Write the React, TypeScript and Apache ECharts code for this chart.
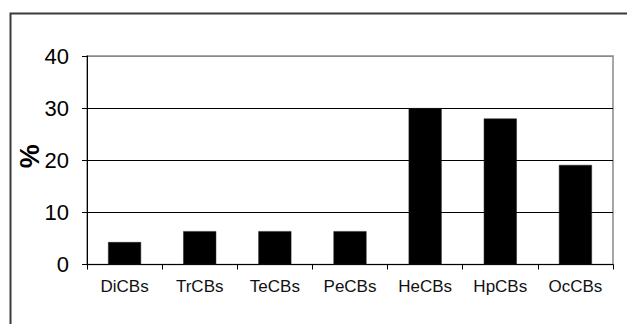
import React, { useEffect, useRef } from "react";
import * as echarts from "echarts";

const categories = ["DiCBs", "TrCBs", "TeCBs", "PeCBs", "HeCBs", "HpCBs", "OcCBs"];
const values = [4.3, 6.4, 6.4, 6.4, 30, 28, 19.1];
const yAxisName = "%";

export default function App() {
  const ref = useRef<HTMLDivElement>(null);
  useEffect(() => {
    if (!ref.current) return;
    const chart = echarts.init(ref.current, null, { renderer: "svg" });
    const font = "'Liberation Sans', Arial, sans-serif";
    chart.setOption({
      animation: false,
      backgroundColor: "#ffffff",
      textStyle: { fontFamily: font },
      graphic: [
        {
          type: "rect",
          left: 8,
          top: 11,
          shape: { width: 700, height: 400 },
          style: { fill: "none", stroke: "#3a3a3a", lineWidth: 2 },
          silent: true,
        },
      ],
      grid: {
        left: 87,
        right: 14,
        top: 56,
        bottom: 59.5,
        show: true,
        borderColor: "#8a8a8a",
        borderWidth: 1.5,
        backgroundColor: "transparent",
      },
      xAxis: {
        type: "category",
        data: categories,
        axisLine: { show: true, lineStyle: { color: "#000", width: 1 } },
        axisTick: { show: true, length: 5, interval: 0, alignWithLabel: false, lineStyle: { color: "#000" } },
        axisLabel: { color: "#111", fontSize: 17, fontFamily: font, margin: 13, interval: 0 },
        splitLine: { show: false },
      },
      yAxis: {
        type: "value",
        min: 0,
        max: 40,
        interval: 10,
        name: yAxisName,
        nameLocation: "middle",
        nameRotate: 90,
        nameGap: 44,
        nameMoveOverlap: false,
        nameTextStyle: { color: "#000", fontSize: 27, fontWeight: "bold", fontFamily: font, padding: [0, 0, 0, 8] },
        axisLine: { show: true, lineStyle: { color: "#000", width: 1 } },
        axisTick: { show: true, length: 5, lineStyle: { color: "#000" } },
        axisLabel: { color: "#000", fontSize: 22, fontFamily: font, margin: 18 },
        splitLine: { show: true, lineStyle: { color: ["#000", "#000", "#000", "#000", "#8a8a8a"], width: 1 } },
      },
      series: [
        {
          type: "bar",
          data: values,
          barWidth: 33,
          itemStyle: { color: "#000", borderColor: "#222", borderWidth: 0.5 },
        },
      ],
    });
    return () => chart.dispose();
  }, []);
  return <div ref={ref} style={{ position: "absolute", left: 0, top: 0, width: 627, height: 324 }} />;
}
